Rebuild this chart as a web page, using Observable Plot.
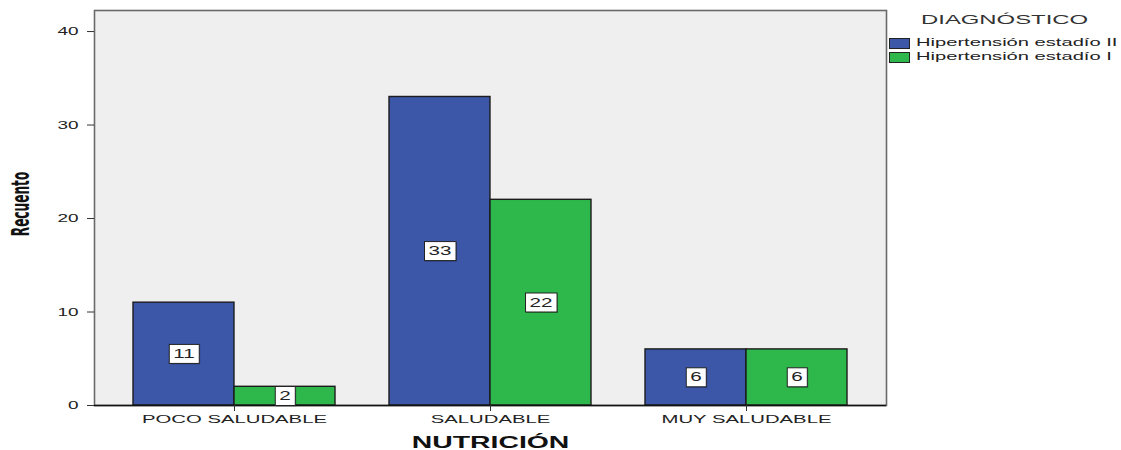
<!DOCTYPE html>
<html>
<head>
<meta charset="utf-8">
<script src="https://cdn.jsdelivr.net/npm/d3@7"></script>
<script src="https://cdn.jsdelivr.net/npm/@observablehq/plot@0.6"></script>
<style>
  html, body { margin: 0; padding: 0; background: #fff; }
  #wrap { position: relative; width: 1121px; height: 450px; font-family: "Liberation Sans", Arial, sans-serif; }
  #legend { position: absolute; left: 889px; top: 11px; color: #222; }
  #legend .title { position: absolute; left: 32px; top: 2px; font-size: 12.5px; color: #333; white-space: nowrap; transform: scaleX(1.91); transform-origin: left top; }
  #legend .row { position: absolute; left: 0; white-space: nowrap; height: 12px; }
  #legend .sw { position: absolute; left: 0; top: 0; width: 19px; height: 9px; border: 1px solid #222; }
  #legend .lab { position: absolute; left: 27px; top: -2px; font-size: 11px; transform: scaleX(1.83); transform-origin: left top; }
</style>
</head>
<body>
<div id="wrap"><div id="legend"></div></div>
<script>
// ---- data ----
const categories = ["POCO SALUDABLE", "SALUDABLE", "MUY SALUDABLE"];
const seriesNames = ["Hipertensión estadío II", "Hipertensión estadío I"];
const estadioII = [11, 33, 6];
const estadioI = [2, 22, 6];
const yTicks = [0, 10, 20, 30, 40];
const seriesColors = ["#3c56a8", "#2eb84b"];
const legendTitle = "DIAGNÓSTICO";
const xTitle = "NUTRICIÓN";
const yTitle = "Recuento";

const rowsII = categories.map((c, i) => ({cat: c, series: seriesNames[0], value: estadioII[i]}));
const rowsI = categories.map((c, i) => ({cat: c, series: seriesNames[1], value: estadioI[i]}));

const W = 1121, H = 450;
const mL = 94, mR = W - 886, mT = 10, mB = 45;
const pIn = 0.211, pOut = 0.152;
const step = (W - mL - mR) / (categories.length - pIn + 2 * pOut);
const bw = step * (1 - pIn);
const half = bw / 2;

const chart = Plot.plot({
  width: W, height: H,
  marginLeft: mL, marginRight: mR, marginTop: mT, marginBottom: mB,
  style: {fontFamily: "'Liberation Sans', Arial, sans-serif", background: "transparent", color: "#222"},
  x: {domain: categories, paddingInner: pIn, paddingOuter: pOut, label: null},
  y: {domain: [0, 42.25], label: null},
  color: {domain: seriesNames, range: seriesColors},
  marks: [
    Plot.frame({fill: "#efefef", stroke: "#6a6a6a", strokeWidth: 1.6}),
    Plot.barY(rowsII, {x: "cat", y: "value", fill: "series", stroke: "#1c1c1c", strokeWidth: 1.4, insetLeft: 0, insetRight: half}),
    Plot.barY(rowsI, {x: "cat", y: "value", fill: "series", stroke: "#1c1c1c", strokeWidth: 1.4, insetLeft: half, insetRight: 0}),
    Plot.ruleY([0], {stroke: "#111", strokeWidth: 1.5}),
    Plot.text(rowsII, {x: "cat", y: d => d.value / 2, text: d => String(d.value), dx: -half / 2, fontSize: 12, fill: "#222"}),
    Plot.text(rowsI, {x: "cat", y: d => d.value / 2, text: d => String(d.value), dx: half / 2, fontSize: 12, fill: "#222"}),
    Plot.axisY({ticks: yTicks, tickSize: 7, tickPadding: 9, fontSize: 11, label: null, stroke: "#333"}),
    Plot.axisX({tickSize: 6, tickPadding: 3, fontSize: 11.8, label: null, stroke: "#333"}),
    Plot.text([yTitle], {text: d => d, frameAnchor: "left", textAnchor: "middle", dx: -74, dy: -4, rotate: -90, fontWeight: "bold", fontSize: 13.5, fontFamily: "'Liberation Sans Narrow', 'DejaVu Sans Condensed', sans-serif", fill: "#111"}),
    Plot.text([xTitle], {text: d => d, frameAnchor: "bottom", dy: 42, fontWeight: "bold", fontSize: 16.5, fill: "#111"})
  ]
});

document.getElementById("wrap").prepend(chart);

// Stretch texts horizontally (the reference is horizontally stretched)
const K = 1.72;
chart.querySelectorAll("text").forEach(t => {
  const tr = t.getAttribute("transform") || "";
  if (tr.includes("rotate")) {
    t.setAttribute("transform", tr + " scale(1,1.85)");
  } else {
    const L = t.getComputedTextLength();
    if (L > 0) {
      t.setAttribute("textLength", L * K);
      t.setAttribute("lengthAdjust", "spacingAndGlyphs");
    }
  }
});

// White boxes behind value labels
const svgBox = chart.getBoundingClientRect();
chart.querySelectorAll('g[aria-label="text"] text').forEach(t => {
  if (!/^\d+$/.test(t.textContent.trim())) return;
  const b = t.getBoundingClientRect();
  const px = 4, py = 2.5;
  const x0 = b.left - svgBox.left - px, y0 = b.top - svgBox.top - py;
  const w = b.width + 2 * px, h = b.height + 2 * py;
  const g = t.parentNode;
  const ns = "http://www.w3.org/2000/svg";
  const sh = document.createElementNS(ns, "rect");
  sh.setAttribute("x", x0 + 1); sh.setAttribute("y", y0 + 1);
  sh.setAttribute("width", w); sh.setAttribute("height", h);
  sh.setAttribute("fill", "rgba(0,0,0,0.25)");
  const r = document.createElementNS(ns, "rect");
  r.setAttribute("x", x0); r.setAttribute("y", y0);
  r.setAttribute("width", w); r.setAttribute("height", h);
  r.setAttribute("fill", "#fff"); r.setAttribute("stroke", "#222"); r.setAttribute("stroke-width", 1);
  g.parentNode.insertBefore(sh, g);
  g.parentNode.insertBefore(r, g);
});

// Legend
const legend = document.getElementById("legend");
const title = document.createElement("div");
title.className = "title"; title.textContent = legendTitle;
legend.appendChild(title);
seriesNames.forEach((s, i) => {
  const row = document.createElement("div");
  row.className = "row"; row.style.top = (27 + i * 13.5) + "px";
  const sw = document.createElement("div");
  sw.className = "sw"; sw.style.background = seriesColors[i];
  const lab = document.createElement("div");
  lab.className = "lab"; lab.textContent = s;
  row.appendChild(sw); row.appendChild(lab);
  legend.appendChild(row);
});
</script>
</body>
</html>
